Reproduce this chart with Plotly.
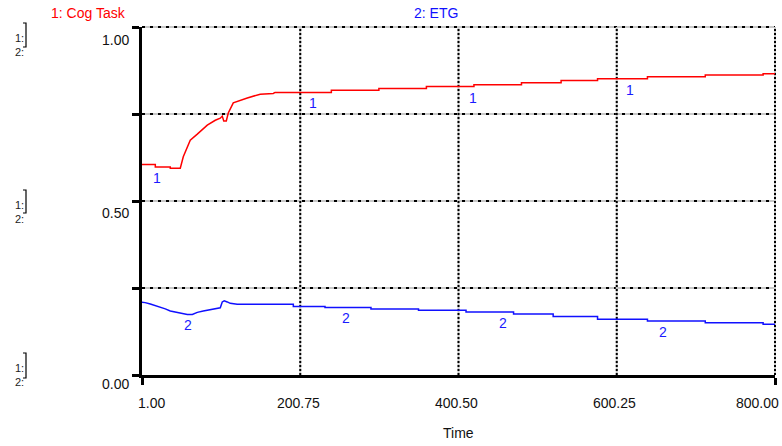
import numpy as np
import plotly.graph_objects as go

# ---- series data -------------------------------------------------------
cog_time = [1, 17.8, 17.8, 36.7, 36.7, 49.3, 53.1, 56.9, 61.9, 70.8,
            83.4, 93.5, 99.8, 102.3, 104.2, 107.4, 109.9, 116.2, 125.1, 133.9,
            150.2, 166.7, 169, 240, 240, 300, 300, 360, 360, 420,
            420, 480, 480, 530, 530, 576, 576, 639, 639, 712,
            712, 785, 785, 800]
cog_task = [0.605, 0.605, 0.598, 0.598, 0.594, 0.594, 0.627, 0.646, 0.675, 0.692,
            0.718, 0.732, 0.738, 0.744, 0.730, 0.730, 0.753, 0.782, 0.790, 0.796,
            0.807, 0.809, 0.812, 0.812, 0.818, 0.818, 0.823, 0.823, 0.829, 0.829,
            0.834, 0.834, 0.840, 0.840, 0.846, 0.846, 0.851, 0.851, 0.857, 0.857,
            0.862, 0.862, 0.866, 0.866]

etg_time = [1, 5, 11.5, 17.8, 24, 30.4, 36.7, 43, 49.3, 58.2,
            64.5, 70.8, 78.3, 87.2, 96, 99.8, 102.3, 104.8, 108.6, 112.4,
            121.2, 192, 192, 232, 232, 290, 290, 350, 350, 410,
            410, 470, 470, 520, 520, 576, 576, 639, 639, 712,
            712, 785, 785, 800]
etg = [0.209, 0.208, 0.204, 0.200, 0.195, 0.190, 0.184, 0.181, 0.178, 0.174,
       0.174, 0.180, 0.184, 0.188, 0.193, 0.193, 0.210, 0.213, 0.210, 0.206,
       0.203, 0.203, 0.197, 0.197, 0.194, 0.194, 0.190, 0.190, 0.186, 0.186,
       0.181, 0.181, 0.175, 0.175, 0.168, 0.168, 0.160, 0.160, 0.155, 0.155,
       0.150, 0.150, 0.146, 0.146]

series_names = ["1: Cog Task", "2: ETG"]
series_colors = ["#ff0000", "#1010ff"]

# axis ticks / grid
x_range = [1, 800]
y_range = [0, 1]
x_grid = [200.75, 400.5, 600.25, 800]
y_grid = [0.25, 0.5, 0.75, 1.0]
y_ticks = [0, 0.25, 0.5, 0.75, 1.0]
x_label_vals = [1, 200.75, 400.5, 600.25, 800]
x_label_text = ["1.00", "200.75", "400.50", "600.25", "800.00"]
y_label_vals = [1.0, 0.5, 0.0]
y_label_text = ["1.00", "0.50", "0.00"]
x_title = "Time"
scale_key = "1:<br>2:"

# series id markers along each curve
cog_mark_t = [19.3, 217.4, 419, 617]
etg_mark_t = [59.4, 258.7, 456.8, 658.6]

# ---- geometry -----------------------------------------------------------
W, H = 782, 446
ML, MR, MT, MB = 142, 7, 27, 71
PW, PH = W - ML - MR, H - MT - MB
FONT = "Liberation Sans, Arial, Helvetica, sans-serif"


def px_x(px):
    return (px - ML) / PW


def px_y(py):
    return (H - MB - py) / PH


def xp(t):
    return (t - x_range[0]) / (x_range[1] - x_range[0])


def yp(v):
    return (v - y_range[0]) / (y_range[1] - y_range[0])


fig = go.Figure()
fig.add_trace(go.Scatter(x=cog_time, y=cog_task, mode="lines",
                         name=series_names[0],
                         line=dict(color=series_colors[0], width=1.5)))
fig.add_trace(go.Scatter(x=etg_time, y=etg, mode="lines",
                         name=series_names[1],
                         line=dict(color=series_colors[1], width=1.5)))

shapes = []
# dotted grid: grey base with black dots on top
for v in y_grid:
    for col, dash in (("#c8c8c8", "solid"), ("black", "3px,5px")):
        shapes.append(dict(type="line", xref="paper", yref="paper",
                           x0=0, x1=1, y0=yp(v), y1=yp(v), layer="below",
                           line=dict(color=col, width=2, dash=dash)))
for t in x_grid:
    for col, dash in (("#c8c8c8", "solid"), ("black", "2px,2px")):
        shapes.append(dict(type="line", xref="paper", yref="paper",
                           x0=xp(t), x1=xp(t), y0=0, y1=1, layer="below",
                           line=dict(color=col, width=2, dash=dash)))

# scale brackets at the left edge
for top, bot in ((23, 47), (190, 213), (353, 378)):
    x0, x1 = px_x(23), px_x(26)
    shapes.append(dict(type="path", xref="paper", yref="paper",
                       path=f"M {x0},{px_y(top)} L {x1},{px_y(top)} "
                            f"L {x1},{px_y(bot)} L {x0},{px_y(bot)}",
                       line=dict(color="black", width=1.2)))

ann = []
# y tick labels sit just below their tick
for v, txt, dy in zip(y_label_vals, y_label_text, (-13, -12, -9)):
    ann.append(dict(x=0, xref="paper", y=v, yref="y", text=txt,
                    xanchor="right", yanchor="middle", xshift=-11, yshift=dy,
                    showarrow=False, font=dict(size=14, color="#111")))
for t, txt, dx in zip(x_label_vals, x_label_text, (9, -2, -2, -2, -18)):
    ann.append(dict(x=t, xref="x", y=0, yref="paper", text=txt,
                    xanchor="center", yanchor="middle", xshift=dx, yshift=-28,
                    showarrow=False, font=dict(size=14, color="#111")))
ann.append(dict(x=0.5, xref="paper", y=0, yref="paper", text=x_title,
                xanchor="center", yanchor="middle", yshift=-58,
                showarrow=False, font=dict(size=14, color="#111")))

# series titles
for name, col, cx in zip(series_names, series_colors, (88, 436)):
    ann.append(dict(x=px_x(cx), xref="paper", y=px_y(13), yref="paper",
                    text=name, xanchor="center", yanchor="middle",
                    showarrow=False, font=dict(size=14, color=col)))

# scale keys "1:" / "2:" stacked in one text block
for yc in (44.5, 212, 374.5):
    ann.append(dict(x=px_x(13), xref="paper", y=px_y(yc), yref="paper",
                    text=scale_key, xanchor="left", yanchor="middle",
                    align="left", showarrow=False,
                    font=dict(size=11, color="#222")))

# numbered markers along curves
for tt, xs, ys, lbl in ((cog_mark_t, cog_time, cog_task, "1"),
                        (etg_mark_t, etg_time, etg, "2")):
    for t in tt:
        ann.append(dict(x=t, xref="x", y=float(np.interp(t, xs, ys)), yref="y",
                        text=lbl, xanchor="center", yanchor="middle", yshift=-11,
                        showarrow=False, font=dict(size=14, color="#1a1aff")))

fig.update_layout(
    width=W, height=H,
    margin=dict(l=ML, r=MR, t=MT, b=MB, pad=0),
    paper_bgcolor="white", plot_bgcolor="rgba(0,0,0,0)",
    showlegend=False,
    font=dict(family=FONT),
    shapes=shapes, annotations=ann,
    xaxis=dict(range=x_range, showgrid=False, zeroline=False,
               showline=True, linecolor="black", linewidth=3,
               ticks="outside", tickvals=[1, 800], ticklen=7, tickwidth=3,
               tickcolor="black", showticklabels=False),
    yaxis=dict(range=y_range, showgrid=False, zeroline=False,
               showline=True, linecolor="black", linewidth=3,
               ticks="outside", tickvals=y_ticks, ticklen=7, tickwidth=3,
               tickcolor="black", showticklabels=False),
)

fig.write_html("out.html")
